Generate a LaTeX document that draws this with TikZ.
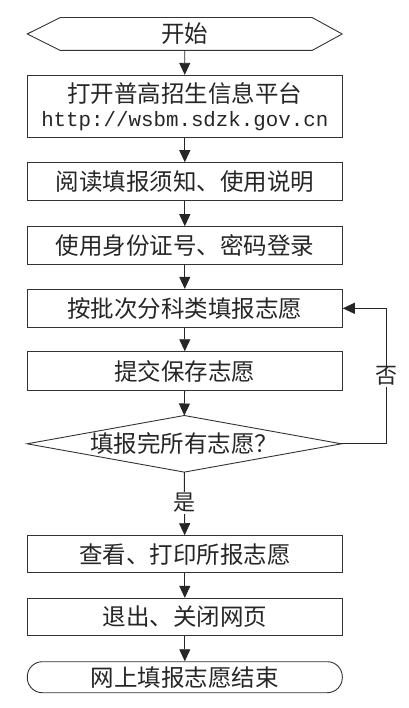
\documentclass[tikz,border=0pt]{standalone}
\usepackage{fontspec}
\setmainfont{Noto Sans CJK SC}
\newfontfamily\urlfont{Liberation Mono}
\usetikzlibrary{arrows.meta,calc}
\begin{document}
\begin{tikzpicture}[x=1pt,y=-1pt,
  line width=0.9pt, draw=black!85,
  stepbox/.style={draw=black!80, minimum width=315pt, inner sep=0pt, font=\fontsize{23.5}{27}\selectfont, text=black!85},
  plain/.style={inner sep=0pt, font=\fontsize{23.5}{27}\selectfont, text=black!85},
  arr/.style={-{Triangle[length=12pt,width=11pt]}, draw=black!85},
  lbl/.style={fill=white, inner sep=1pt, font=\fontsize{22}{26}\selectfont, text=black!85}]
\useasboundingbox (0,0) rectangle (408,708);
\fill[white] (0,0) rectangle (408,708);

\node[plain, minimum width=314pt, minimum height=32pt] (start) at (184.7,34) {开始};
\draw[black!80] (start.west) -- ([xshift=33pt]start.north west) -- ([xshift=-30pt]start.north east) -- (start.east) -- ([xshift=-30pt]start.south east) -- ([xshift=33pt]start.south west) -- cycle;

\node[stepbox, minimum height=62pt, align=center] (b1) at (184.8,106.3) {打开普高招生信息平台\\[-3pt]{\urlfont\fontsize{20.8}{24}\selectfont http://wsbm.sdzk.gov.cn}};
\node[stepbox, minimum height=38.3pt] (b2) at (184.8,181.8) {阅读填报须知、使用说明};
\node[stepbox, minimum height=37.3pt] (b3) at (184.8,245.3) {使用身份证号、密码登录};
\node[stepbox, minimum height=38pt] (b4) at (184.8,308.3) {按批次分科类填报志愿};
\node[stepbox, minimum height=39pt] (b5) at (184.8,371.2) {提交保存志愿};

\node[plain, minimum width=313.4pt, minimum height=55.7pt] (dec) at (184.3,443.8) {填报完所有志愿？};
\draw[black!80] (dec.west) -- (dec.north) -- (dec.east) -- (dec.south) -- cycle;

\node[stepbox, minimum height=37pt] (b6) at (184.8,554.2) {查看、打印所报志愿};
\node[stepbox, minimum height=37.4pt] (b7) at (184.8,617) {退出、关闭网页};
\node[stepbox, minimum height=31pt, rounded corners=15pt] (end) at (184.8,677.2) {网上填报志愿结束};

\coordinate (fb) at (386,443.8);

\draw[arr] (start) -- (b1);
\draw[arr] (b1) -- (b2);
\draw[arr] (b2) -- (b3);
\draw[arr] (b3) -- (b4);
\draw[arr] (b4) -- (b5);
\draw[arr] (b5) -- (dec.north);
\draw[arr] (dec.south) -- node[lbl, pos=0.49] (yes) {是} (b6);
\draw[arr] (b6) -- (b7);
\draw[arr] (b7) -- (end);
\draw[arr] (dec.east) -- (fb) |- node[lbl, pos=0.25] (no) {否} (b4.east);
\end{tikzpicture}
\end{document}
